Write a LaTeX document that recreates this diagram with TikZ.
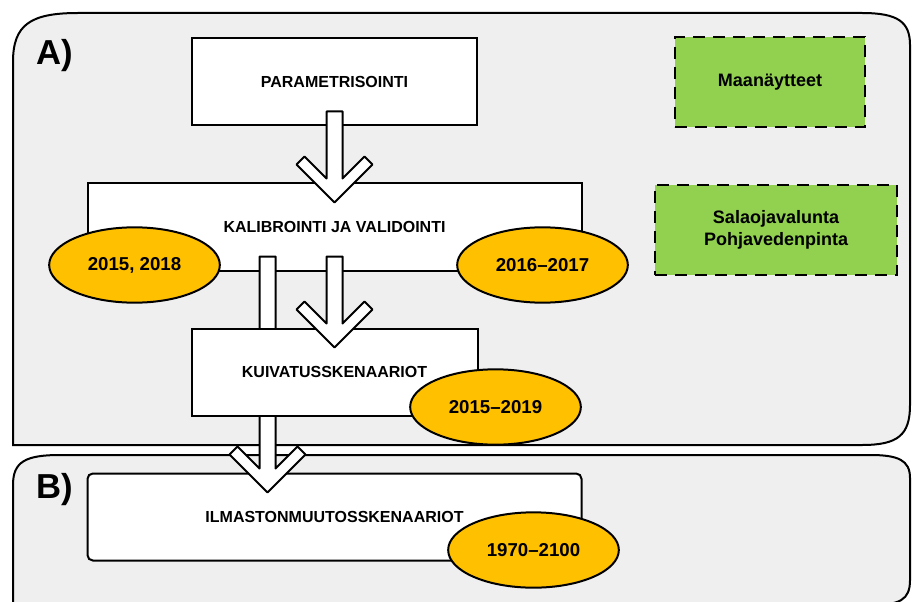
\documentclass[tikz,border=0pt]{standalone}
\usepackage{fontspec}
\setmainfont{Liberation Sans}
\usepackage{tikz}
\usetikzlibrary{calc}
\usetikzlibrary{shapes.geometric, positioning}
\definecolor{panelgray}{HTML}{EFEFEF}
\definecolor{yeargold}{HTML}{FFC000}
\definecolor{datagreen}{HTML}{92D050}
\tikzstyle{panel} = [draw=black, line width=1.5pt, fill=panelgray]
\tikzstyle{stage} = [rectangle, minimum height=65.25pt, text centered, draw=black, line width=1.5pt, fill=white, font=\bfseries\fontsize{12}{14}\selectfont]
\tikzstyle{year} = [ellipse, minimum width=128pt, minimum height=56.5pt, inner sep=0pt, draw=black, line width=1.5pt, fill=yeargold, font=\bfseries\fontsize{14}{16}\selectfont]
\tikzstyle{data} = [rectangle, minimum height=67.5pt, align=center, draw=black, dash pattern=on 9pt off 6pt, line width=1.5pt, fill=datagreen, font=\bfseries\fontsize{13.5}{16.5}\selectfont]
\tikzstyle{hollow} = [draw=black, line width=1.5pt, fill=white, line join=round]
\tikzstyle{tag} = [font=\bfseries\fontsize{26}{28}\selectfont]
% big open arrow: [x offset] from node, to node
\newcommand{\bigarrow}[3][0]{%
  \draw[hollow] let \p1=($(#2.south)+(#1,-15)$), \p2=($(#3.north)+(#1,20)$) in
    (\x2,\y2) -- (\x2-28.5pt,\y2+28.5pt) -- (\x2-22.5pt,\y2+34.5pt) -- (\x2-6pt,\y2+18pt)
    -- (\x2-6pt,\y1) -- (\x2+6pt,\y1) -- (\x2+6pt,\y2+18pt)
    -- (\x2+22.5pt,\y2+34.5pt) -- (\x2+28.5pt,\y2+28.5pt) -- cycle;}

\begin{document}
\begin{tikzpicture}[x=0.75pt, y=-0.75pt, node distance=108.75pt]

        \useasboundingbox (0,0) rectangle (912,602);
        \clip (0,0) rectangle (912,602);

        % panels
        \draw[panel] (13,445) -- (13,62) .. controls (13,25) and (30,13) .. (78,13) -- (862,13)
            .. controls (898,13) and (910,22) .. (910,45) -- (910,405) .. controls (910,435) and (898,445) .. (862,445) -- cycle;
        \draw[panel] (13,640) -- (13,485) .. controls (13,462) and (25,455) .. (60,455) -- (870,455)
            .. controls (898,455) and (910,460) .. (910,478) -- (910,580) .. controls (910,600) and (900,605) .. (870,605) -- (13,605);
        \node (labA) [tag] at (55,56) {A)};
        \node (labB) [tag] at (55,490) {B)};

        % data
        \node (soil) [data, minimum width=142.5pt] at (770,82) {Maanäytteet};
        \node (drain) [data, minimum width=181.5pt] at (776,230) {Salaojavalunta\\Pohjavedenpinta};

        % stages
        \node (param) [stage, minimum width=213.75pt] at (334.5,82) {PARAMETRISOINTI};
        \node (kalib) [stage, minimum width=370.5pt, below of=param] {KALIBROINTI JA VALIDOINTI};
        \node (ilmasto) [stage, minimum width=370.5pt, rounded corners=4pt, below of=kalib, yshift=-108.75pt] {ILMASTONMUUTOSSKENAARIOT};

        \bigarrow{param}{kalib}
        \bigarrow[-67]{kalib}{ilmasto}

        \node (kuiv) [stage, minimum width=214.5pt, below of=kalib] {KUIVATUSSKENAARIOT};

        \bigarrow{kalib}{kuiv}

        % years
        \node (y1) [year] at ($(kalib.center)+(-200,38)$) {2015, 2018};
        \node (y2) [year] at ($(kalib.center)+(208,38)$) {2016--2017};
        \node (y3) [year] at ($(kuiv.center)+(161,35)$) {2015--2019};
        \node (y4) [year] at ($(ilmasto.center)+(199,33)$) {1970--2100};

    \end{tikzpicture}
\end{document}
